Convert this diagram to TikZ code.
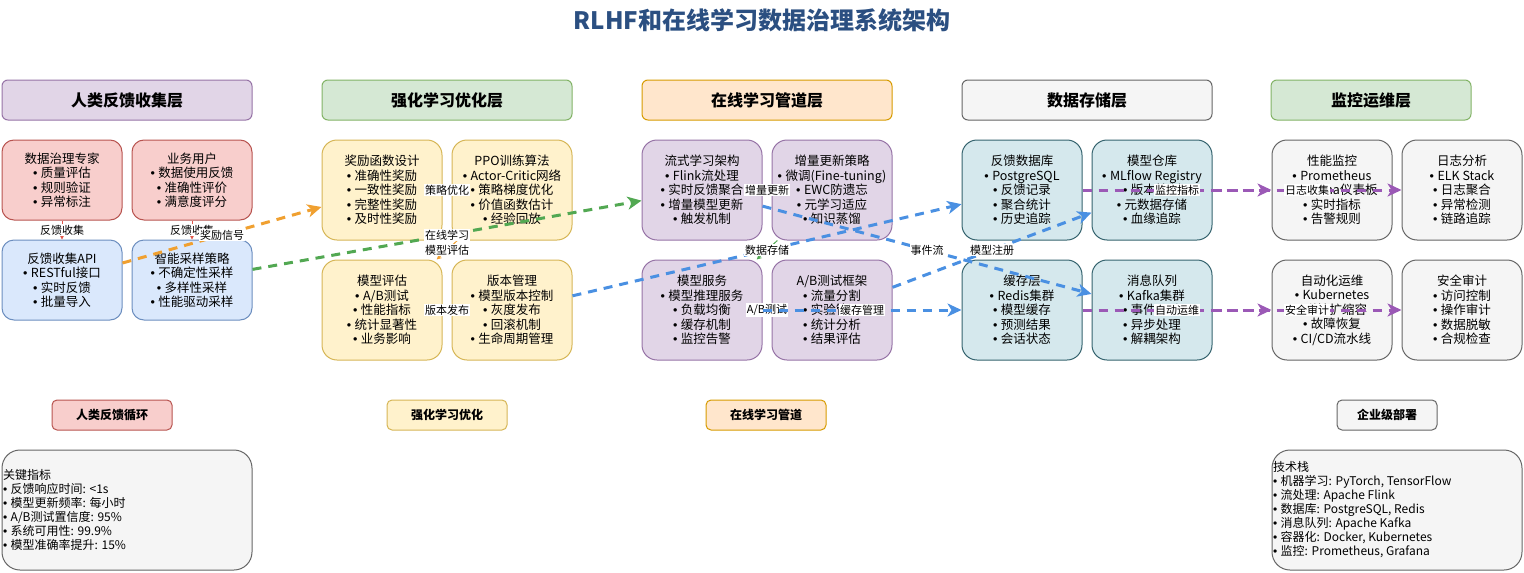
\documentclass[tikz,border=0pt]{standalone}
\usepackage{fontspec}
\setmainfont{Noto Sans CJK SC}
\newfontfamily\latf{Liberation Sans}
\newcommand\bl{{\latf• }}
\usetikzlibrary{arrows.meta}
\definecolor{redF}{HTML}{F8CECC}\definecolor{redD}{HTML}{B85450}
\definecolor{bluF}{HTML}{DAE8FC}\definecolor{bluD}{HTML}{6C8EBF}
\definecolor{yelF}{HTML}{FFF2CC}\definecolor{yelD}{HTML}{D6B656}
\definecolor{purF}{HTML}{E1D5E7}\definecolor{purD}{HTML}{9673A6}
\definecolor{tealF}{HTML}{D5E8ED}\definecolor{tealD}{HTML}{35636E}
\definecolor{grayF}{HTML}{F5F5F5}\definecolor{grayD}{HTML}{666666}
\definecolor{grnF}{HTML}{D5E8D4}\definecolor{grnD}{HTML}{82B366}
\definecolor{orgF}{HTML}{FFE6CC}\definecolor{orgD}{HTML}{D79B00}
\definecolor{titleblue}{HTML}{2B4F81}
\definecolor{eOrange}{HTML}{F0A030}
\definecolor{eGreen}{HTML}{52A852}
\definecolor{eBlue}{HTML}{4A90E2}
\definecolor{ePurple}{HTML}{9B59B6}
\definecolor{eRed}{HTML}{E0584C}
\tikzset{
  card/.style={draw, rounded corners=15pt, line width=1pt, minimum width=120pt, minimum height=100pt,
    align=center, inner sep=0pt, font=\fontsize{12.5}{14.5}\selectfont},
  smallcard/.style={card, rounded corners=12pt, minimum height=80pt},
  hdr/.style={draw, rounded corners=6pt, line width=1pt, minimum width=250pt, minimum height=40pt,
    inner sep=0pt, font=\bfseries\fontsize{16}{18}\selectfont},
  tagbox/.style={draw, rounded corners=5pt, line width=1pt, minimum width=120pt, minimum height=30pt,
    inner sep=0pt, font=\bfseries\fontsize{12}{14}\selectfont},
  infobox/.style={draw=grayD, fill=grayF, rounded corners=18pt, line width=1pt, minimum width=250pt,
    minimum height=120pt, inner sep=0pt},
  infotext/.style={anchor=west, align=left, inner sep=0pt, font=\fontsize{12}{14}\selectfont},
  lbl/.style={fill=white, text=black, inner sep=1pt, font=\fontsize{11}{12}\selectfont},
  xedge/.style={line width=3pt, dash pattern=on 9pt off 7pt, -{Stealth[length=14pt,width=13pt,inset=4pt]}},
  iedge/.style={line width=1pt, -{Stealth[length=5pt,width=5pt]}}
}
\begin{document}
\begin{tikzpicture}[x=1pt,y=-1pt]
\useasboundingbox (0,0) rectangle (1524,573);
% title
\node[font=\bfseries\fontsize{24}{28}\selectfont, text=titleblue] (title) at (762,20) {RLHF和在线学习数据治理系统架构};
% headers
\node[hdr, fill=purF, draw=purD] (H1) at (127,100) {人类反馈收集层};
\node[hdr, fill=grnF, draw=grnD] (H2) at (447,100) {强化学习优化层};
\node[hdr, fill=orgF, draw=orgD] (H3) at (767,100) {在线学习管道层};
\node[hdr, fill=grayF, draw=grayD] (H4) at (1087,100) {数据存储层};
\node[hdr, fill=grnF, draw=grnD, minimum width=200pt] (H5) at (1371,100) {监控运维层};
% column 1
\node[smallcard, fill=redF, draw=redD] (A1) at (62,180) {数据治理专家\\\bl 质量评估\\\bl 规则验证\\\bl 异常标注};
\node[smallcard, fill=redF, draw=redD] (A2) at (192,180) {业务用户\\\bl 数据使用反馈\\\bl 准确性评价\\\bl 满意度评分};
\node[smallcard, fill=bluF, draw=bluD] (A3) at (62,280) {反馈收集API\\\bl RESTful接口\\\bl 实时反馈\\\bl 批量导入};
\node[smallcard, fill=bluF, draw=bluD] (A4) at (192,280) {智能采样策略\\\bl 不确定性采样\\\bl 多样性采样\\\bl 性能驱动采样};
% column 2
\node[card, fill=yelF, draw=yelD] (B1) at (382,190) {奖励函数设计\\\bl 准确性奖励\\\bl 一致性奖励\\\bl 完整性奖励\\\bl 及时性奖励};
\node[card, fill=yelF, draw=yelD] (B2) at (512,190) {PPO训练算法\\\bl Actor-Critic网络\\\bl 策略梯度优化\\\bl 价值函数估计\\\bl 经验回放};
\node[card, fill=yelF, draw=yelD] (B3) at (382,310) {模型评估\\\bl A/B测试\\\bl 性能指标\\\bl 统计显著性\\\bl 业务影响};
\node[card, fill=yelF, draw=yelD] (B4) at (512,310) {版本管理\\\bl 模型版本控制\\\bl 灰度发布\\\bl 回滚机制\\\bl 生命周期管理};
% column 3
\node[card, fill=purF, draw=purD] (C1) at (702,190) {流式学习架构\\\bl Flink流处理\\\bl 实时反馈聚合\\\bl 增量模型更新\\\bl 触发机制};
\node[card, fill=purF, draw=purD] (C2) at (832,190) {增量更新策略\\\bl 微调(Fine-tuning)\\\bl EWC防遗忘\\\bl 元学习适应\\\bl 知识蒸馏};
\node[card, fill=purF, draw=purD] (C3) at (702,310) {模型服务\\\bl 模型推理服务\\\bl 负载均衡\\\bl 缓存机制\\\bl 监控告警};
\node[card, fill=purF, draw=purD] (C4) at (832,310) {A/B测试框架\\\bl 流量分割\\\bl 实验管理\\\bl 统计分析\\\bl 结果评估};
% column 4
\node[card, fill=tealF, draw=tealD] (D1) at (1022,190) {反馈数据库\\\bl PostgreSQL\\\bl 反馈记录\\\bl 聚合统计\\\bl 历史追踪};
\node[card, fill=tealF, draw=tealD] (D2) at (1152,190) {模型仓库\\\bl MLflow Registry\\\bl 版本控制\\\bl 元数据存储\\\bl 血缘追踪};
\node[card, fill=tealF, draw=tealD] (D3) at (1022,310) {缓存层\\\bl Redis集群\\\bl 模型缓存\\\bl 预测结果\\\bl 会话状态};
\node[card, fill=tealF, draw=tealD] (D4) at (1152,310) {消息队列\\\bl Kafka集群\\\bl 事件驱动\\\bl 异步处理\\\bl 解耦架构};
% column 5
\node[card, fill=grayF, draw=grayD] (E1) at (1332,190) {性能监控\\\bl Prometheus\\\bl Grafana仪表板\\\bl 实时指标\\\bl 告警规则};
\node[card, fill=grayF, draw=grayD] (E2) at (1462,190) {日志分析\\\bl ELK Stack\\\bl 日志聚合\\\bl 异常检测\\\bl 链路追踪};
\node[card, fill=grayF, draw=grayD] (E3) at (1332,310) {自动化运维\\\bl Kubernetes\\\bl 弹性扩缩容\\\bl 故障恢复\\\bl CI/CD流水线};
\node[card, fill=grayF, draw=grayD] (E4) at (1462,310) {安全审计\\\bl 访问控制\\\bl 操作审计\\\bl 数据脱敏\\\bl 合规检查};
% bottom tags
\node[tagbox, fill=redF, draw=redD] (F1) at (112,415) {人类反馈循环};
\node[tagbox, fill=yelF, draw=yelD] (F2) at (447,415) {强化学习优化};
\node[tagbox, fill=orgF, draw=orgD] (F3) at (766,415) {在线学习管道};
\node[tagbox, fill=grayF, draw=grayD, minimum width=100pt] (F4) at (1387,415) {企业级部署};
% info boxes
\node[infobox] (G1) at (127,510) {};
\node[infotext] (G1t) at (3,510) {关键指标\\\bl 反馈响应时间: <1s\\\bl 模型更新频率: 每小时\\\bl A/B测试置信度: 95\%\\\bl 系统可用性: 99.9\%\\\bl 模型准确率提升: 15\%};
\node[infobox] (G2) at (1397,510) {};
\node[infotext] (G2t) at (1273,510) {技术栈\\\bl 机器学习: PyTorch, TensorFlow\\\bl 流处理: Apache Flink\\\bl 数据库: PostgreSQL, Redis\\\bl 消息队列: Apache Kafka\\\bl 容器化: Docker, Kubernetes\\\bl 监控: Prometheus, Grafana};
% intra-column edges
\draw[iedge, eRed] (A1) -- node[lbl]{反馈收集} (A3);
\draw[iedge, eRed] (A2) -- node[lbl]{反馈收集} (A4);
\draw[iedge, eOrange] (B1) -- node[lbl]{策略优化} (B2);
\draw[iedge, eOrange] (B2) -- node[lbl]{模型评估} (B3);
\draw[iedge, eOrange] (B3) -- node[lbl]{版本发布} (B4);
\draw[iedge, eGreen] (C1) -- node[lbl]{增量更新} (C2);
\draw[iedge, eGreen] (C2) -- (C3);
\draw[iedge, eGreen] (C3) -- node[lbl]{A/B测试} (C4);
% cross edges
\draw[xedge, eOrange] (A3) -- node[lbl]{奖励信号} (B1);
\draw[xedge, eGreen] (A4) -- node[lbl]{在线学习} (C1);
\draw[xedge, eBlue] (B4) -- node[lbl]{数据存储} (D1);
\draw[xedge, eBlue] (C1) -- node[lbl]{事件流} (D4);
\draw[xedge, eBlue] (C4) -- node[lbl]{模型注册} (D2);
\draw[xedge, eBlue] (C3) -- node[lbl]{缓存管理} (D3);
\draw[xedge, ePurple] (D1) -- node[lbl]{监控指标} (E1);
\draw[xedge, ePurple] (D2) -- node[lbl]{日志收集} (E2);
\draw[xedge, ePurple] (D3) -- node[lbl]{自动运维} (E3);
\draw[xedge, ePurple] (D4) -- node[lbl]{安全审计} (E4);
\end{tikzpicture}
\end{document}
